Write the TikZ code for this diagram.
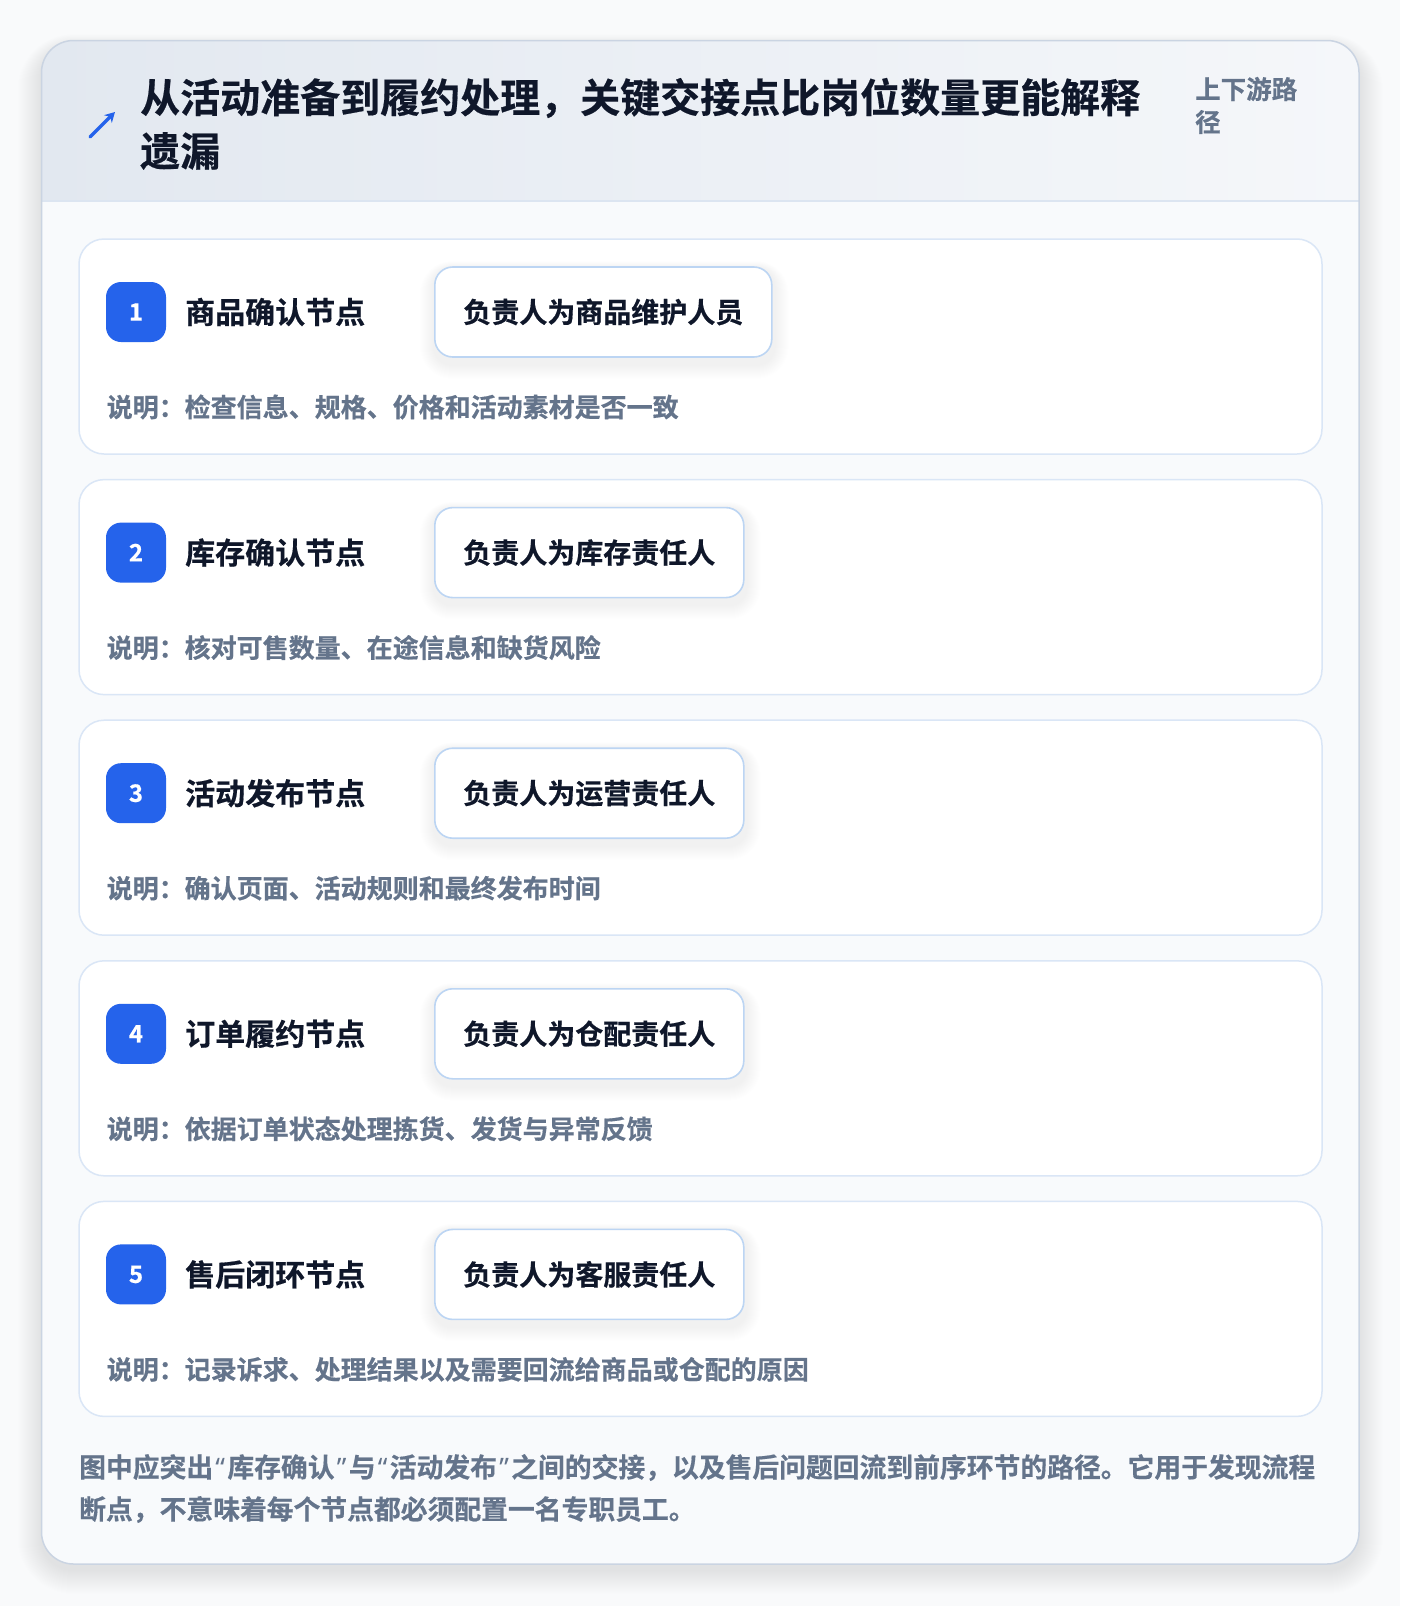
\documentclass[tikz,border=0pt]{standalone}
\usepackage{fontspec}
\setmainfont{Noto Sans CJK SC}[BoldFont={Noto Sans CJK SC Bold}, BoldFeatures={FakeBold=0.5}]
\newfontfamily\quotefont{Noto Sans}[BoldFeatures={FakeBold=0.5}]
\usetikzlibrary{arrows.meta}
\definecolor{pagebg}{HTML}{F9FAFB}
\definecolor{panelbg}{HTML}{F8FAFC}
\definecolor{panelborder}{HTML}{CAD4E2}
\definecolor{headL}{HTML}{E2E8F0}
\definecolor{headR}{HTML}{F5F7FA}
\definecolor{headline}{HTML}{DCE5F1}
\definecolor{cardborder}{HTML}{DAE6F6}
\definecolor{rolebd}{HTML}{BCD5F3}
\definecolor{accent}{HTML}{2563EB}
\definecolor{ink}{HTML}{0F172A}
\definecolor{slate}{HTML}{64748B}
\newcommand{\myLq}{\makebox[0.53em][c]{\quotefont\bfseries “}}
\newcommand{\myRq}{\makebox[0.53em][c]{\quotefont\bfseries ”}}
\pgfdeclarelayer{back}
\pgfdeclarelayer{shadowl}
\pgfsetlayers{back,shadowl,main}
\tikzset{
  card/.style={draw=cardborder, line width=1.5pt, fill=white, rounded corners=25pt},
  badge/.style={fill=accent, rounded corners=15pt, minimum size=60pt, inner sep=0pt,
    text=white, font=\bfseries\fontsize{24}{24}\selectfont},
  ntitle/.style={anchor=west, inner sep=0pt, text=ink, font=\bfseries\fontsize{30}{30}\selectfont},
  rolebox/.style={anchor=west, draw=rolebd, line width=1.6pt, fill=white, rounded corners=18pt,
    minimum height=90pt, inner xsep=28.5pt, inner ysep=0pt, text=ink,
    font=\bfseries\fontsize{28}{28}\selectfont},
  desc/.style={anchor=west, inner sep=0pt, text=slate, font=\bfseries\fontsize{26}{26}\selectfont},
  foottext/.style={anchor=west, inner sep=0pt, text=slate, font=\bfseries\fontsize{26.8}{26.8}\selectfont},
  titletext/.style={anchor=west, inner sep=0pt, text=ink, font=\bfseries\fontsize{40}{40}\selectfont},
  sidetext/.style={anchor=west, inner sep=0pt, text=slate, font=\bfseries\fontsize{25.5}{25.5}\selectfont},
}
\begin{document}
\begin{tikzpicture}[x=1pt,y=-1pt]
\useasboundingbox (0,0) rectangle (1400,1606);
\begin{pgfonlayer}{back}
\fill[pagebg] (0,0) rectangle (1400,1606);
% panel shadow
\foreach \k in {1,...,24}{
  \fill[black, opacity=0.0042, rounded corners={32pt+\k pt}]
    (41.5-\k,40.5-\k*0.6+8) rectangle (1359+\k,1564+\k+6);
}
\path[fill=panelbg, rounded corners=32pt] (41.5,40.5) rectangle (1359,1564);
\begin{scope}
  \clip[rounded corners=32pt] (41.5,40.5) rectangle (1359,1564);
  \shade[left color=headL, right color=headR] (41.5,40.5) rectangle (1359,201);
  \draw[headline, line width=1.5pt] (41.5,201) -- (1359,201);
\end{scope}
\draw[panelborder, line width=1.5pt, rounded corners=32pt] (41.5,40.5) rectangle (1359,1564);
\end{pgfonlayer}

% header
\coordinate (arrS) at (90,137);
\coordinate (arrE) at (115,112);
\draw[accent, line width=3.4pt, line cap=round, -{Stealth[length=10pt,width=11pt]}] (arrS) -- (arrE);
\node[titletext] (title1) at (140,98) {从活动准备到履约处理，关键交接点比岗位数量更能解释};
\node[titletext] (title2) at (140,151) {遗漏};
\node[sidetext] (side1) at (1195,89) {上下游路};
\node[sidetext] (side2) at (1195,122) {径};

% cards
\foreach \i/\ttl/\role/\dsc in {
  1/商品确认节点/负责人为商品维护人员/检查信息、规格、价格和活动素材是否一致,
  2/库存确认节点/负责人为库存责任人/核对可售数量、在途信息和缺货风险,
  3/活动发布节点/负责人为运营责任人/确认页面、活动规则和最终发布时间,
  4/订单履约节点/负责人为仓配责任人/依据订单状态处理拣货、发货与异常反馈,
  5/售后闭环节点/负责人为客服责任人/记录诉求、处理结果以及需要回流给商品或仓配的原因}{
  \pgfmathsetmacro\t{239+240.6*(\i-1)}
  \begin{pgfonlayer}{back}
    \draw[card] (79,\t) rectangle (1322,\t+215);
  \end{pgfonlayer}
  \node[badge] (badge\i) at (136,\t+73) {\i};
  \node[ntitle] (ttl\i) at (185,\t+73) {\ttl};
  \node[rolebox] (role\i) at (434,\t+73) {\role};
  \begin{pgfonlayer}{shadowl}
    \foreach \k in {1,...,14}{
      \fill[black, opacity=0.0035, rounded corners={18pt+\k pt}]
        ([xshift=-\k pt, yshift={\k*0.5pt-2pt}]role\i.north west) rectangle
        ([xshift={\k pt+2pt}, yshift={-\k pt-7pt}]role\i.south east);
    }
  \end{pgfonlayer}
  \node[desc] (desc\i) at (106.5,\t+168) {说明：\dsc};
}

% footer
\node[foottext] (foot1) at (79,1467.5) {图中应突出\myLq 库存确认\myRq 与\myLq 活动发布\myRq 之间的交接，以及售后问题回流到前序环节的路径。它用于发现流程};
\node[foottext] (foot2) at (79,1509.5) {断点，不意味着每个节点都必须配置一名专职员工。};
\end{tikzpicture}
\end{document}
